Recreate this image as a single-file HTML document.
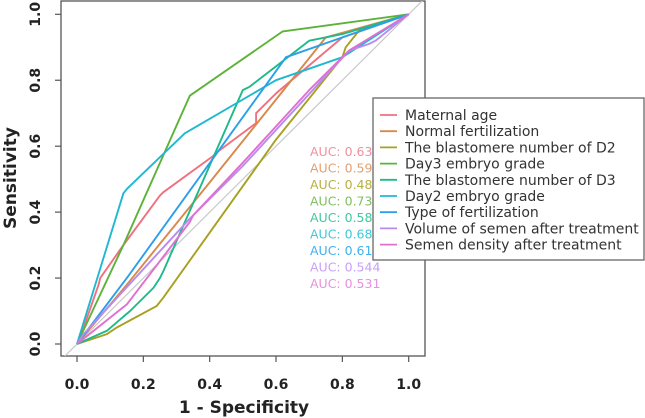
<!DOCTYPE html>
<html><head><meta charset="utf-8"><style>
body{margin:0;background:#fff}
svg{display:block;font-family:"DejaVu Sans","Liberation Sans",sans-serif}
</style></head><body>
<svg id="chart" width="645" height="418" viewBox="0 0 645 418" xmlns="http://www.w3.org/2000/svg">
<defs><clipPath id="pc"><rect x="61" y="1" width="364" height="355"/></clipPath></defs>
<rect x="61" y="1" width="364" height="355" fill="none" stroke="#555" stroke-width="1.3"/>
<g id="grid" clip-path="url(#pc)"></g>
<g id="series" clip-path="url(#pc)"></g>
<g id="axes"></g>
<text x="244" y="413" text-anchor="middle" font-size="17" font-weight="bold" fill="#222">1 - Specificity</text>
<text transform="translate(16,178) rotate(-90)" text-anchor="middle" font-size="17" font-weight="bold" fill="#222">Sensitivity</text>
<g id="auc"></g>
<g id="legend"></g>
</svg>
<script>
const seriesNames=["Maternal age","Normal fertilization","The blastomere number of D2","Day3 embryo grade","The blastomere number of D3","Day2 embryo grade","Type of fertilization","Volume of semen after treatment","Semen density after treatment"];
const seriesColors=["#F0707F","#D8894A","#A8A020","#5DB33A","#1DBA8A","#20B8D0","#2AA0E8","#B98AF0","#E070D0"];
const aucLabels=["AUC: 0.63","AUC: 0.59","AUC: 0.48","AUC: 0.73","AUC: 0.58","AUC: 0.68","AUC: 0.61","AUC: 0.544","AUC: 0.531"];
const aucColors=["#F0909F","#E0A070","#B8B040","#80C060","#40C8A0","#40C8D8","#40B0F0","#C8A0F8","#E890E0"];
const tickValues=[0,0.2,0.4,0.6,0.8,1.0];
const tickLabels=["0.0","0.2","0.4","0.6","0.8","1.0"];
const fprMaternal=[0,0.02,0.065,0.07,0.14,0.25,0.26,0.41,0.42,0.54,0.54,0.6,0.8,1];
const tprMaternal=[0,0.05,0.18,0.2,0.3,0.45,0.46,0.57,0.58,0.67,0.7,0.76,0.93,1];
const fprNormal=[0,0.15,0.4,0.75,1];
const tprNormal=[0,0.18,0.49,0.93,1];
const fprD2=[0,0.09,0.12,0.24,0.26,0.6,0.8,0.81,0.85,1];
const tprD2=[0,0.03,0.05,0.115,0.14,0.62,0.87,0.9,0.95,1];
const fprDay3=[0,0.14,0.34,0.62,1];
const tprDay3=[0,0.3,0.753,0.948,1];
const fprD3=[0,0.09,0.16,0.23,0.25,0.26,0.5,0.52,0.7,0.8,1];
const tprD3=[0,0.04,0.1,0.17,0.2,0.22,0.77,0.78,0.92,0.94,1];
const fprDay2=[0,0.14,0.152,0.325,0.6,0.8,1];
const tprDay2=[0,0.457,0.472,0.639,0.8,0.87,1];
const fprType=[0,0.15,0.63,0.8,1];
const tprType=[0,0.2,0.87,0.93,1];
const fprVolume=[0,0.02,0.34,0.5,0.72,0.82,0.88,0.9,1];
const tprVolume=[0,0.03,0.38,0.54,0.78,0.89,0.91,0.92,1];
const fprDensity=[0,0.15,0.34,0.35,0.5,0.7,0.82,1];
const tprDensity=[0,0.12,0.37,0.39,0.55,0.77,0.89,1];

const fprAll=[fprMaternal,fprNormal,fprD2,fprDay3,fprD3,fprDay2,fprType,fprVolume,fprDensity];
const tprAll=[tprMaternal,tprNormal,tprD2,tprDay3,tprD3,tprDay2,tprType,tprVolume,tprDensity];
const NS="http://www.w3.org/2000/svg";
const xs=v=>77+v*331.7;
const ys=v=>344-v*329.7;
function mk(tag,attrs,parent,text){const e=document.createElementNS(NS,tag);for(const k in attrs)e.setAttribute(k,attrs[k]);if(text!==undefined)e.textContent=text;parent.appendChild(e);return e;}
const grid=document.getElementById('grid'),series=document.getElementById('series'),axes=document.getElementById('axes'),auc=document.getElementById('auc'),legend=document.getElementById('legend');
const diag=mk('line',{x1:xs(-0.1),y1:ys(-0.1),x2:xs(1.1),y2:ys(1.1),stroke:'#c8c8c8','stroke-width':1.2},grid);


tickValues.forEach((v,i)=>{
  const tx=mk('line',{x1:xs(v),x2:xs(v),y1:356,y2:362,stroke:'#555','stroke-width':1.2},axes);
  
  
  const lx=mk('text',{x:xs(v),y:389,'text-anchor':'middle','font-size':14,'font-weight':'bold',fill:'#222'},axes,tickLabels[i]);
  
  
  const ty=mk('line',{x1:55,x2:61,y1:ys(v),y2:ys(v),stroke:'#555','stroke-width':1.2},axes);
  
  
  const ly=mk('text',{transform:`translate(40,${ys(v)}) rotate(-90)`,'text-anchor':'middle','font-size':14,'font-weight':'bold',fill:'#222'},axes,tickLabels[i]);
  
  
});
fprAll.forEach((f,s)=>{
  const pts=f.map((x,i)=>xs(x).toFixed(1)+','+ys(tprAll[s][i]).toFixed(1)).join(' ');
  const pl=mk('polyline',{points:pts,fill:'none',stroke:seriesColors[s],'stroke-width':1.9,'stroke-linejoin':'round'},series);
  
  
  const at=mk('text',{x:310,y:156+s*16.5,'font-size':12.5,fill:aucColors[s]},auc,aucLabels[s]);
  
  
});
const box=mk('rect',{x:373,y:98,width:271,height:162,fill:'#fff',stroke:'#666','stroke-width':1.3},legend);


seriesNames.forEach((n,s)=>{
  const y=115+s*16.2;
  const g=mk('g',{},legend);
  
  
  mk('line',{x1:380,x2:397,y1:y,y2:y,stroke:seriesColors[s],'stroke-width':1.8},g);
  mk('text',{x:405,y:y+5,'font-size':14,fill:'#333'},g,n);
});
</script>
</body></html>
